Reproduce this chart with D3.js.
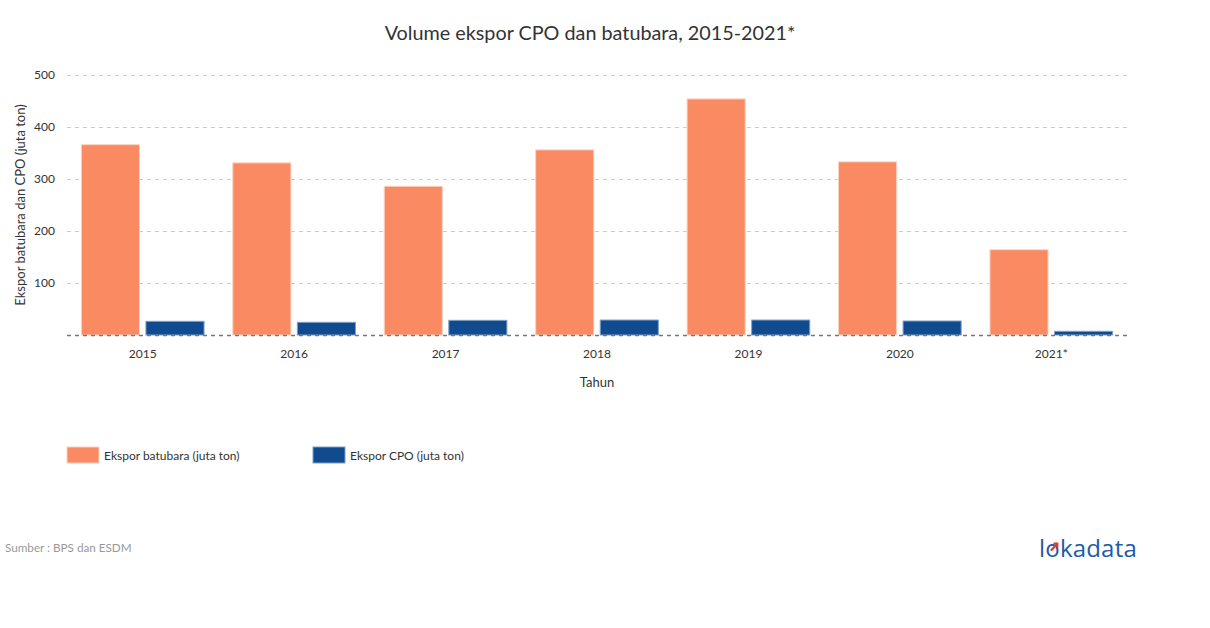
<!DOCTYPE html>
<html>
<head>
<meta charset="utf-8">
<script src="https://cdn.jsdelivr.net/npm/d3@7"></script>
<style>
  html, body { margin: 0; padding: 0; background: #fff; }
  svg { display: block; font-family: Lato, "Open Sans", sans-serif; }
</style>
</head>
<body>
<svg id="chart" width="1210" height="628"></svg>
<script>
const categories = ["2015", "2016", "2017", "2018", "2019", "2020", "2021*"];
const coalValues = [366, 331, 286, 356, 454, 333, 164];
const cpoValues = [26.3, 24.4, 28.2, 28.8, 28.8, 26.9, 7.1];
const yTicks = [0, 100, 200, 300, 400, 500];
const seriesNames = ["Ekspor batubara (juta ton)", "Ekspor CPO (juta ton)"];
const seriesColors = ["#f98a62", "#104b8f"];
const seriesStrokes = ["#fcd2c0", "#7f9fc6"];

const svg = d3.select("#chart");
const margin = { left: 67, right: 1127, top: 75, bottom: 335 };

const x = d3.scaleBand().domain(categories).range([margin.left, margin.right]).paddingInner(0.19).paddingOuter(0.095);
const xs = d3.scaleBand().domain([0, 1]).range([0, x.bandwidth()]).paddingInner(0.1);
const y = d3.scaleLinear().domain([0, 500]).range([margin.bottom, margin.top]);

// Title
svg.append("text").attr("x", 590).attr("y", 40).attr("text-anchor", "middle")
  .attr("font-size", 19.8).attr("fill", "#333").text("Volume ekspor CPO dan batubara, 2015-2021*");

// Gridlines
svg.append("g").selectAll("line").data(yTicks.filter(d => d > 0)).join("line")
  .attr("x1", margin.left).attr("x2", margin.right)
  .attr("y1", d => y(d) + 0.5).attr("y2", d => y(d) + 0.5)
  .attr("stroke", "#cccccc").attr("stroke-width", 1).attr("stroke-dasharray", "4,4");

// Y axis
const yAxis = d3.axisLeft(y).tickValues(yTicks.filter(d => d > 0)).tickSize(0).tickPadding(12);
const yg = svg.append("g").attr("transform", `translate(${margin.left},0)`).call(yAxis);
yg.select(".domain").remove();
yg.selectAll("text").attr("font-size", 12).attr("fill", "#333").attr("font-family", "Lato, sans-serif");

// Bars
const data = categories.map((c, i) => ({ c, v: [coalValues[i], cpoValues[i]] }));
const groups = svg.append("g").selectAll("g").data(data).join("g")
  .attr("transform", d => `translate(${x(d.c)},0)`);
groups.selectAll("rect").data(d => d.v.map((v, k) => ({ v, k }))).join("rect")
  .attr("x", d => xs(d.k)).attr("width", xs.bandwidth())
  .attr("y", d => y(d.v)).attr("height", d => y(0) - y(d.v))
  .attr("fill", d => seriesColors[d.k])
  .attr("stroke", d => seriesStrokes[d.k]).attr("stroke-width", 1);

// Zero line
svg.append("line").attr("x1", margin.left).attr("x2", margin.right)
  .attr("y1", y(0) + 0.5).attr("y2", y(0) + 0.5)
  .attr("stroke", "#777").attr("stroke-width", 1.5).attr("stroke-dasharray", "4,4");

// X axis
const xAxis = d3.axisBottom(x).tickSize(0).tickPadding(14);
const xg = svg.append("g").attr("transform", `translate(0,${margin.bottom})`).call(xAxis);
xg.select(".domain").remove();
xg.selectAll("text").attr("font-size", 12).attr("fill", "#333").attr("font-family", "Lato, sans-serif");

// Axis titles
svg.append("text").attr("x", 597).attr("y", 387).attr("text-anchor", "middle")
  .attr("font-size", 13).attr("fill", "#333").text("Tahun");
svg.append("text").attr("transform", "translate(25,205) rotate(-90)").attr("text-anchor", "middle")
  .attr("font-size", 13).attr("fill", "#333").text("Ekspor batubara dan CPO (juta ton)");

// Legend
const legendX = [67, 313];
const lg = svg.append("g").selectAll("g").data(seriesNames).join("g")
  .attr("transform", (d, i) => `translate(${legendX[i]},447)`);
lg.append("rect").attr("width", 32).attr("height", 16)
  .attr("fill", (d, i) => seriesColors[i]).attr("stroke", (d, i) => seriesStrokes[i]).attr("stroke-width", 1);
lg.append("text").attr("x", 37).attr("y", 12.5).attr("font-size", 12).attr("fill", "#333").text(d => d);

// Source
svg.append("text").attr("x", 5).attr("y", 552).attr("font-size", 11.7).attr("fill", "#999").text("Sumber : BPS dan ESDM");

// Logo
const logo = svg.append("g").attr("transform", "translate(1039,557)");
logo.append("text").attr("x", 0).attr("y", 0).attr("font-size", 24).attr("font-family", "'Open Sans', sans-serif")
  .attr("fill", "#1e5aa8").attr("letter-spacing", 0.2).text("lokadata");
logo.append("path").attr("d", "M12.5,-7 L18,-13").attr("stroke", "#e8362c").attr("stroke-width", 2.2).attr("stroke-linecap", "round");
logo.append("path").attr("d", "M14.5,-13.5 L18.5,-13.5 L18.5,-9.5").attr("stroke", "#e8362c").attr("stroke-width", 1.8).attr("fill", "none");
</script>
</body>
</html>
